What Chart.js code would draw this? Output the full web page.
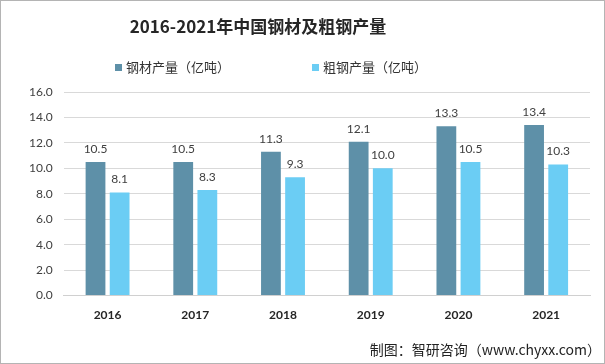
<!DOCTYPE html>
<html>
<head>
<meta charset="utf-8">
<script src="https://cdn.jsdelivr.net/npm/chart.js@4"></script>
<style>
  body { margin: 0; background: #fff; }
  #wrap { position: relative; width: 605px; height: 364px; box-sizing: border-box; border: 1px solid #b4b4b4; }
  #theChart { position: absolute; left: 0; top: 0; }
  #title { position: absolute; left: 0; width: 514px; top: 12px; text-align: center; font: bold 17px "Noto Sans CJK SC", sans-serif; color: #262626; }
  .leg { position: absolute; top: 56px; font: 13px "Noto Sans CJK SC", sans-serif; color: #333; }
  .leg i { display: inline-block; width: 7px; height: 7px; margin-right: 4px; vertical-align: 1px; }
  #source { position: absolute; right: 3px; bottom: 4px; font: 14px "Noto Sans CJK SC", sans-serif; color: #222; }
</style>
</head>
<body>
<div id="wrap">
  <canvas id="theChart"></canvas>
  <div id="title">2016-2021年中国钢材及粗钢产量</div>
  <div class="leg" style="left:114px"><i id="sw0"></i><span id="lg0"></span></div>
  <div class="leg" style="left:311px"><i id="sw1"></i><span id="lg1"></span></div>
  <div id="source">制图：智研咨询（www.chyxx.com）</div>
</div>
<script>
const YEARS = ["2016", "2017", "2018", "2019", "2020", "2021"];
const STEEL = [10.5, 10.5, 11.3, 12.1, 13.3, 13.4];
const CRUDE = [8.1, 8.3, 9.3, 10.0, 10.5, 10.3];
const SERIES_NAMES = ["钢材产量（亿吨）", "粗钢产量（亿吨）"];

const COLORS = {
  dark: "#5e90a8",
  light: "#6bcdf4",
};

// draw the value above each bar
const barLabels = {
  id: "barLabels",
  afterDatasetsDraw(chart) {
    const ctx = chart.ctx;
    ctx.save();
    ctx.font = "12px Lato, sans-serif";
    ctx.fillStyle = "#404040";
    ctx.textAlign = "center";
    ctx.textBaseline = "bottom";
    chart.data.datasets.forEach((ds, i) => {
      chart.getDatasetMeta(i).data.forEach((bar, j) => {
        ctx.fillText(ds.data[j].toFixed(1), bar.x, bar.y - 7);
      });
    });
    ctx.restore();
  },
};

const config = {
  type: "bar",
  data: {
    labels: YEARS,
    datasets: [
      {
        label: SERIES_NAMES[0],
        data: STEEL,
        backgroundColor: COLORS.dark,
        barPercentage: 0.82,
        categoryPercentage: 0.55,
      },
      {
        label: SERIES_NAMES[1],
        data: CRUDE,
        backgroundColor: COLORS.light,
        barPercentage: 0.82,
        categoryPercentage: 0.55,
      },
    ],
  },
  options: {
    responsive: false,
    animation: false,
    layout: { padding: { left: 17, right: 14, top: 91, bottom: 37 } },
    plugins: {
      legend: { display: false },
      tooltip: { enabled: false },
    },
    scales: {
      x: {
        grid: { display: false },
        border: { color: "#d0d0d0" },
        ticks: { color: "#262626", padding: 4, font: { family: "Lato", size: 12, weight: "bold" } },
      },
      y: {
        min: 0,
        max: 16,
        ticks: {
          stepSize: 2,
          color: "#404040",
          padding: 11,
          font: { family: "Lato", size: 12 },
          callback: (v) => v.toFixed(1),
        },
        grid: { color: "#d9d9d9", drawTicks: false },
        border: { display: false },
      },
    },
  },
  plugins: [barLabels],
};

// legend swatches and names come from the datasets
config.data.datasets.forEach((ds, i) => {
  document.getElementById("sw" + i).style.background = ds.backgroundColor;
  document.getElementById("lg" + i).textContent = ds.label;
});

const canvas = document.getElementById("theChart");
canvas.width = 603;
canvas.height = 362;
new Chart(canvas, config);
</script>
</body>
</html>
